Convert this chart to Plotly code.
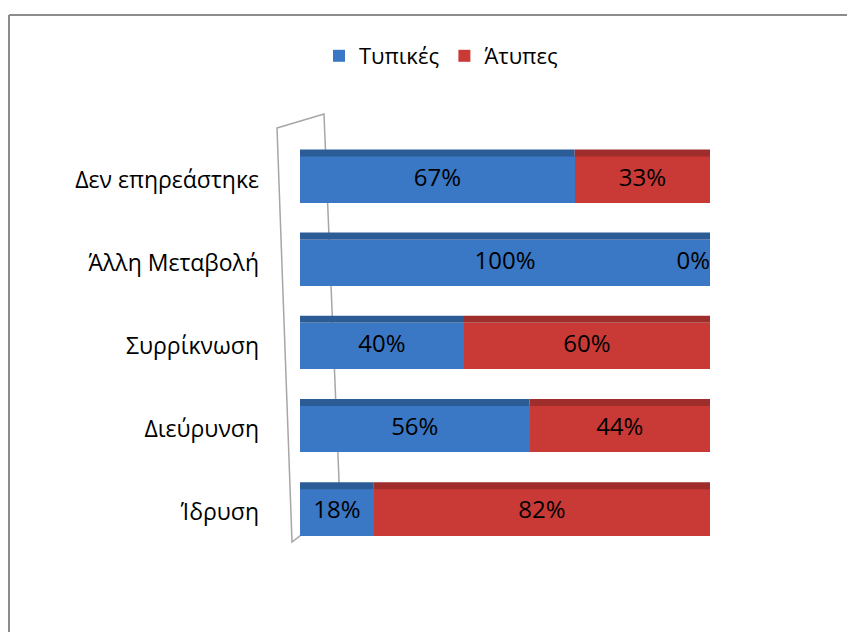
import plotly.graph_objects as go

# ---- data ----
categories = ["Ίδρυση", "Διεύρυνση", "Συρρίκνωση", "Άλλη Μεταβολή", "Δεν επηρεάστηκε"]
typical = [18, 56, 40, 100, 67]
atypical = [82, 44, 60, 0, 33]
series_names = ["Τυπικές", "Άτυπες"]

W, H = 855, 632
OFF = 8  # page body margin offset
ML, MT = 300 - OFF, 138 - OFF
PW, PH = 410, 416
MR, MB = W - ML - PW, H - MT - PH

def px(x):
    return (x - OFF - ML) / PW

def py(y):
    return (MT + PH - (y - OFF)) / PH

BLUE, BLUE_TOP = "#3A77C4", "#2C5C96"
RED, RED_TOP, RED_SIDE = "#C93A37", "#9E2D2B", "#7B2321"
FONT = "Open Sans"
BAR_HALF = 0.278
DEPTH = 0.085

fig = go.Figure()
fig.add_trace(go.Bar(y=categories, x=typical, orientation="h", name=series_names[0],
                     marker=dict(color=BLUE, line=dict(width=0))))
fig.add_trace(go.Bar(y=categories, x=atypical, orientation="h", name=series_names[1],
                     marker=dict(color=RED, line=dict(width=0))))

# data labels (centered in each segment; a zero segment label sits at the bar end)
lx, ly, lt, lp = [], [], [], []
for c, a, b in zip(categories, typical, atypical):
    lx.append(a / 2); ly.append(c); lt.append(f"{a}%"); lp.append("middle center")
    if b > 0:
        lx.append(a + b / 2); lp.append("middle center")
    else:
        lx.append(a + b); lp.append("middle left")
    ly.append(c); lt.append(f"{b}%")
fig.add_trace(go.Scatter(x=lx, y=ly, text=lt, mode="text", textposition=lp,
                         textfont=dict(family=FONT, size=24, color="#000000"),
                         showlegend=False, hoverinfo="skip", cliponaxis=False))

shapes = []
# back wall of the category axis (decorative)
wall = [(277, 128), (324, 114), (340, 505), (292, 542)]
path = "M " + " L ".join(f"{px(x):.4f},{py(y):.4f}" for x, y in wall) + " Z"
shapes.append(dict(type="path", xref="paper", yref="paper", path=path,
                   line=dict(color="#A6A6A6", width=1.5), fillcolor="#FFFFFF", layer="below"))

# 3D-ish top faces and end face derived from data
for i, (a, b) in enumerate(zip(typical, atypical)):
    y0, y1 = i + BAR_HALF, i + BAR_HALF + DEPTH
    if a > 0:
        shapes.append(dict(type="rect", xref="x", yref="y", x0=0, x1=a, y0=y0, y1=y1,
                           fillcolor=BLUE_TOP, line=dict(width=0), layer="above"))
    if b > 0:
        shapes.append(dict(type="rect", xref="x", yref="y", x0=a, x1=a + b, y0=y0, y1=y1,
                           fillcolor=RED_TOP, line=dict(width=0), layer="above"))
    tot = a + b
    shapes.append(dict(type="rect", xref="x", yref="y", x0=tot, x1=tot + 2,
                       y0=i - BAR_HALF, y1=y1,
                       fillcolor=RED_SIDE if b > 0 else "#2A5488", line=dict(width=0), layer="above"))

# outer chart border (cropped on right and bottom)
bx0, by0 = px(9), py(15)
shapes.append(dict(type="line", xref="paper", yref="paper", x0=bx0, x1=px(W + 20), y0=by0, y1=by0,
                   line=dict(color="#8C8C8C", width=2)))
shapes.append(dict(type="line", xref="paper", yref="paper", x0=bx0, x1=bx0, y0=by0, y1=py(H + 20),
                   line=dict(color="#8C8C8C", width=2)))

fig.update_layout(
    width=W, height=H,
    margin=dict(l=ML, r=MR, t=MT, b=MB),
    paper_bgcolor="white", plot_bgcolor="rgba(0,0,0,0)",
    barmode="stack", bargap=1 - 2 * BAR_HALF,
    font=dict(family=FONT, color="#000000"),
    showlegend=True,
    legend=dict(orientation="h", x=px(441), xanchor="center", y=py(56), yanchor="middle",
                font=dict(family=FONT, size=22), traceorder="normal", itemwidth=30,
                bgcolor="rgba(0,0,0,0)"),
    xaxis=dict(range=[0, 100], visible=False, showgrid=False, zeroline=False),
    yaxis=dict(showgrid=False, zeroline=False, showline=False, ticks="",
               tickfont=dict(family=FONT, size=23), ticklabelstandoff=40),
    shapes=shapes,
)

fig.write_html("out.html")
